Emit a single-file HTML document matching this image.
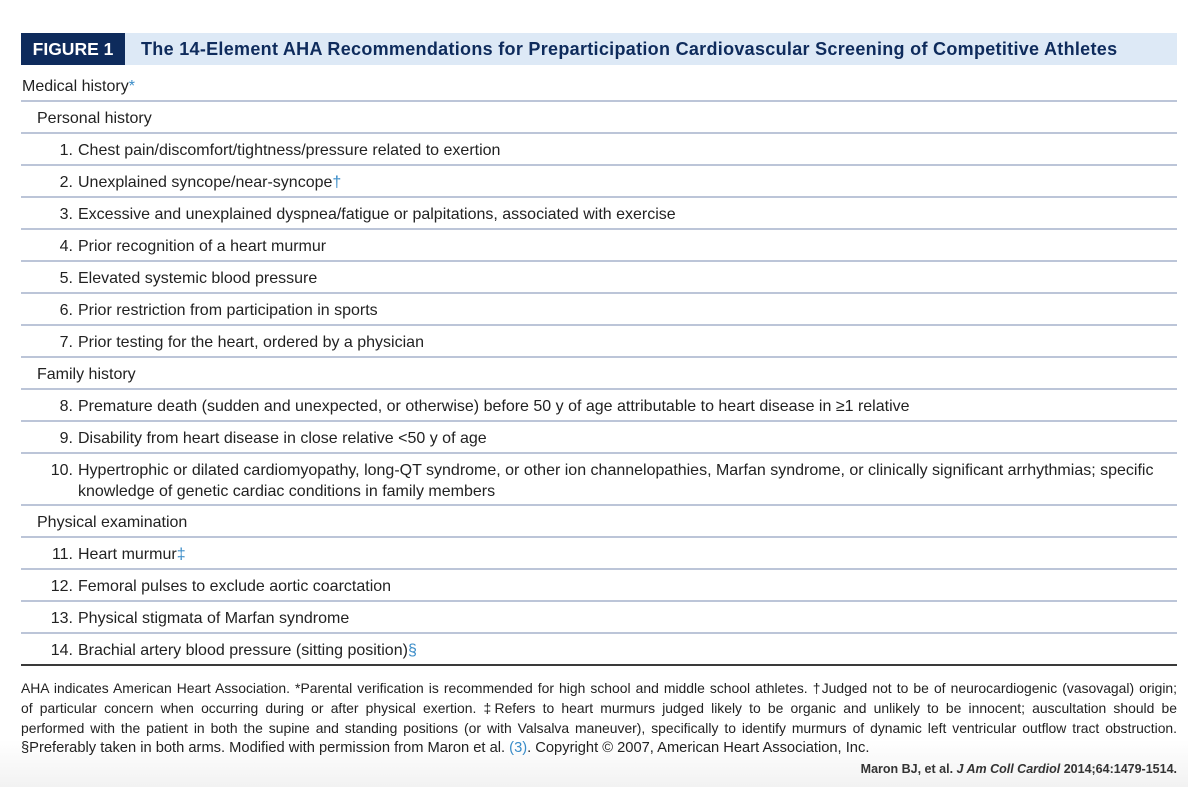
<!DOCTYPE html>
<html><head><meta charset="utf-8">
<style>
html,body{margin:0;padding:0;background:#fff;}
body{width:1200px;height:800px;position:relative;overflow:hidden;font-family:"Liberation Sans",sans-serif;color:#222;}
.shade{position:absolute;left:0;top:740px;width:1188px;height:47px;background:linear-gradient(#fff,#f2f2f2);}
.band{position:absolute;left:21px;top:33px;width:1156px;height:32px;background:#dde9f6;}
.fig{position:absolute;left:21px;top:33px;width:104px;height:32px;background:#0e2b5c;color:#fff;font-weight:bold;font-size:17.5px;line-height:33px;text-align:center;}
.title{position:absolute;left:141px;top:33px;line-height:33px;font-weight:bold;font-size:18px;letter-spacing:0.3px;color:#0e2b5c;white-space:nowrap;}
.row{position:absolute;left:21px;width:1156px;border-bottom:2px solid #bcc5d8;box-sizing:border-box;font-size:16px;line-height:18px;}
.row .t{position:absolute;white-space:nowrap;top:9px;}
.row .n{width:52px;text-align:right;left:0;}
.row .x{left:57px;}
.b{color:#3a8cc8;}
.last{border-bottom:2px solid #3a3a3a;}
.foot{position:absolute;left:21px;top:678px;width:1156px;font-size:13.9px;line-height:20px;color:#222;}
.foot div{white-space:nowrap;text-align:justify;text-align-last:justify;height:20px;overflow:visible;}
.foot div.l{text-align:left;text-align-last:left;font-size:14.7px;}
.cite{position:absolute;right:23px;top:762px;font-size:12.5px;font-weight:bold;color:#333;white-space:nowrap;}
</style></head><body>
<div class="shade"></div>
<div class="band"></div>
<div class="fig">FIGURE 1</div>
<div class="title">The 14-Element AHA Recommendations for Preparticipation Cardiovascular Screening of Competitive Athletes</div>

<div class="row" style="top:69px;height:33px"><span class="t" style="left:1px">Medical history<span class="b">*</span></span></div>
<div class="row" style="top:101px;height:33px"><span class="t" style="left:16px">Personal history</span></div>
<div class="row" style="top:133px;height:33px"><span class="t n">1.</span><span class="t x">Chest pain/discomfort/tightness/pressure related to exertion</span></div>
<div class="row" style="top:165px;height:33px"><span class="t n">2.</span><span class="t x">Unexplained syncope/near-syncope<span class="b">†</span></span></div>
<div class="row" style="top:197px;height:33px"><span class="t n">3.</span><span class="t x">Excessive and unexplained dyspnea/fatigue or palpitations, associated with exercise</span></div>
<div class="row" style="top:229px;height:33px"><span class="t n">4.</span><span class="t x">Prior recognition of a heart murmur</span></div>
<div class="row" style="top:261px;height:33px"><span class="t n">5.</span><span class="t x">Elevated systemic blood pressure</span></div>
<div class="row" style="top:293px;height:33px"><span class="t n">6.</span><span class="t x">Prior restriction from participation in sports</span></div>
<div class="row" style="top:325px;height:33px"><span class="t n">7.</span><span class="t x">Prior testing for the heart, ordered by a physician</span></div>
<div class="row" style="top:357px;height:33px"><span class="t" style="left:16px">Family history</span></div>
<div class="row" style="top:389px;height:33px"><span class="t n">8.</span><span class="t x">Premature death (sudden and unexpected, or otherwise) before 50 y of age attributable to heart disease in ≥1 relative</span></div>
<div class="row" style="top:421px;height:33px"><span class="t n">9.</span><span class="t x">Disability from heart disease in close relative &lt;50 y of age</span></div>
<div class="row" style="top:453px;height:53px"><span class="t n" style="top:7px;line-height:21px">10.</span><span class="t x" style="top:7px;line-height:21px">Hypertrophic or dilated cardiomyopathy, long-QT syndrome, or other ion channelopathies, Marfan syndrome, or clinically significant arrhythmias; specific<br>knowledge of genetic cardiac conditions in family members</span></div>
<div class="row" style="top:505px;height:33px"><span class="t" style="left:16px">Physical examination</span></div>
<div class="row" style="top:537px;height:33px"><span class="t n">11.</span><span class="t x">Heart murmur<span class="b">‡</span></span></div>
<div class="row" style="top:569px;height:33px"><span class="t n">12.</span><span class="t x">Femoral pulses to exclude aortic coarctation</span></div>
<div class="row" style="top:601px;height:33px"><span class="t n">13.</span><span class="t x">Physical stigmata of Marfan syndrome</span></div>
<div class="row last" style="top:633px;height:33px"><span class="t n">14.</span><span class="t x">Brachial artery blood pressure (sitting position)<span class="b">§</span></span></div>

<div class="foot">
<div>AHA indicates American Heart Association. *Parental verification is recommended for high school and middle school athletes. †Judged not to be of neurocardiogenic (vasovagal) origin;</div>
<div>of particular concern when occurring during or after physical exertion. ‡Refers to heart murmurs judged likely to be organic and unlikely to be innocent; auscultation should be</div>
<div>performed with the patient in both the supine and standing positions (or with Valsalva maneuver), specifically to identify murmurs of dynamic left ventricular outflow tract obstruction.</div>
<div class="l">§Preferably taken in both arms. Modified with permission from Maron et al. <span class="b">(3)</span>. Copyright © 2007, American Heart Association, Inc.</div>
</div>
<div class="cite">Maron BJ, et al. <i>J Am Coll Cardiol</i> 2014;64:1479-1514.</div>
</body></html>
